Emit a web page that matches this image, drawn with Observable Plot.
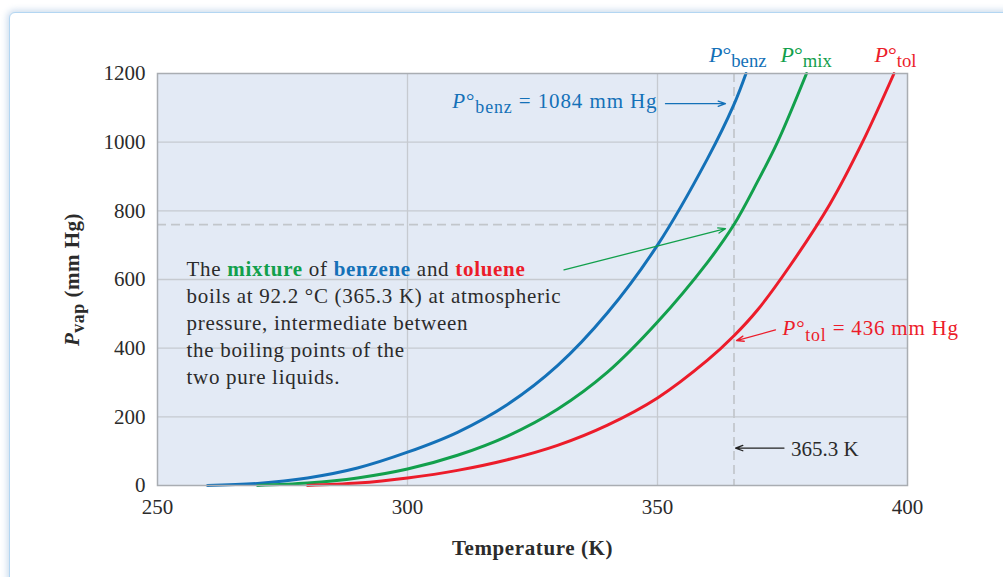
<!DOCTYPE html>
<html><head><meta charset="utf-8">
<script src="https://cdn.jsdelivr.net/npm/d3@7"></script>
<script src="https://cdn.jsdelivr.net/npm/@observablehq/plot@0.6"></script>
<style>
html,body{margin:0;padding:0;background:#fff;overflow:hidden;}
#wrap{position:relative;width:1003px;height:577px;overflow:hidden;}
#card{position:absolute;left:9px;top:12px;width:1100px;height:700px;border:1.5px solid #b3d6f2;border-top-left-radius:6px;box-shadow:0 0 6px 2px rgba(190,210,232,0.75);background:#fff;}
#chart{position:absolute;left:0;top:0;}
</style></head><body>
<div id="wrap"><div id="card"></div><div id="chart"></div></div>
<script>
// ---- data ----
const benzT = [260, 270, 280, 290, 300, 310, 320, 330, 340, 350, 360, 365.3, 367.7];
const benzP = [0, 6, 22, 51, 97, 155, 236, 349, 503, 700, 952, 1110, 1200];
const mixT  = [270, 280, 290, 300, 310, 320, 330, 340, 350, 360, 365.3, 370, 374, 379.8];
const mixP  = [0, 7, 22, 48, 88, 144, 222, 330, 476, 650, 760, 885, 1000, 1200];
const tolT  = [280, 290, 300, 310, 320, 330, 340, 350, 360, 365.3, 370, 376.5, 384.5, 391, 397.3];
const tolP  = [0, 7, 22, 44, 75, 117, 176, 255, 365, 436, 511, 640, 820, 1000, 1200];

const xTicks = [250, 300, 350, 400];
const yTicks = [0, 200, 400, 600, 800, 1000, 1200];
const gridXVals = [300, 350];
const gridYVals = [200, 400, 600, 800, 1000];
const boilT = 365.3;     // K
const boilP = 760;       // mm Hg (atmospheric)

const topLabels = ["P°benz", "P°mix", "P°tol"];
const topLabelX = [360.3, 374.6, 393.4];

const paraLines = ["The mixture of benzene and toluene",
  "boils at 92.2 °C (365.3 K) at atmospheric",
  "pressure, intermediate between",
  "the boiling points of the",
  "two pure liquids."];
const paraX = 255.8, paraY = 296;

const labelTexts = ["P°benz = 1084 mm Hg", "P°tol = 436 mm Hg", "365.3 K"];
const labelX = [350, 375, 376.7];
const labelY = [1100, 437, 84.5];
const labelAnchor = ["end", "start", "start"];

const arrowX1 = [351.6, 331.3, 373.6, 375.3];
const arrowY1 = [1112, 628, 453, 109];
const arrowX2 = [363.6, 363.6, 365.8, 365.6];
const arrowY2 = [1112, 748, 422, 109];

// ---- styles ----
const BLUE = "#1471b8", GREEN = "#12a04c", RED = "#ec1c2a", INK = "#2b2b2b";
const serif = "'Liberation Serif', 'Times New Roman', serif";

const toRows = (T, P) => T.map((t, i) => ({T: t, P: P[i]}));
const benz = toRows(benzT, benzP), mix = toRows(mixT, mixP), tol = toRows(tolT, tolP);
const arrowColors = [BLUE, GREEN, RED, "#222"];
const labelColors = [BLUE, RED, INK];
const topColors = [BLUE, GREEN, RED];

const arrowMarks = arrowX1.map((x1, i) => Plot.arrow([{x1, y1: arrowY1[i], x2: arrowX2[i], y2: arrowY2[i]}],
  {x1: "x1", y1: "y1", x2: "x2", y2: "y2", stroke: arrowColors[i], strokeWidth: 1.3, headLength: 9, headAngle: 40}));
const labelMarks = labelTexts.map((t, i) => Plot.text([t], {x: labelX[i], y: labelY[i], textAnchor: labelAnchor[i],
  lineAnchor: "bottom", fill: labelColors[i], fontSize: 21}));
const topMarks = topLabels.map((t, i) => Plot.text([t], {x: topLabelX[i], frameAnchor: "top", dy: -12, textAnchor: "start",
  lineAnchor: "bottom", fill: topColors[i], fontSize: 22}));

const plot = Plot.plot({
  width: 1003, height: 577,
  marginLeft: 157, marginRight: 96, marginTop: 73, marginBottom: 92,
  style: {fontFamily: serif, fontSize: "21px", color: INK, background: "transparent", overflow: "visible"},
  x: {domain: [250, 400]},
  y: {domain: [0, 1200]},
  marks: [
    Plot.frame({fill: "#e3eaf5", stroke: null}),
    Plot.gridX(gridXVals, {stroke: "#c6cad0", strokeOpacity: 1, strokeWidth: 1.3}),
    Plot.gridY(gridYVals, {stroke: "#c6cad0", strokeOpacity: 1, strokeWidth: 1.3}),
    Plot.ruleX([boilT], {stroke: "#c2c6cb", strokeWidth: 1.7, strokeDasharray: "9,5"}),
    Plot.ruleY([boilP], {stroke: "#c2c6cb", strokeWidth: 1.7, strokeDasharray: "9,5"}),
    Plot.line(benz, {x: "T", y: "P", stroke: BLUE, strokeWidth: 3, curve: "catmull-rom"}),
    Plot.line(mix, {x: "T", y: "P", stroke: GREEN, strokeWidth: 3, curve: "catmull-rom"}),
    Plot.line(tol, {x: "T", y: "P", stroke: RED, strokeWidth: 3, curve: "catmull-rom"}),
    Plot.frame({stroke: "#a9adb2", strokeWidth: 1.5}),
    Plot.axisX({ticks: xTicks, tickSize: 0, tickPadding: 14, label: null, fontSize: 21, fill: INK, tickFormat: d => String(d)}),
    Plot.axisY({ticks: yTicks, tickSize: 0, tickPadding: 12, label: null, fontSize: 21, fill: INK, tickFormat: d => String(d)}),
    Plot.text(["Temperature (K)"], {frameAnchor: "bottom", dy: 69, lineAnchor: "bottom", fontWeight: "bold", fontSize: 21, fill: INK}),
    Plot.text(["Pvap (mm Hg)"], {frameAnchor: "left", dx: -79, rotate: -90, textAnchor: "middle", lineAnchor: "bottom", fontWeight: "bold", fontSize: 21, fill: INK}),
    Plot.text([paraLines.join("\n")], {x: paraX, y: paraY, textAnchor: "start", lineAnchor: "bottom", lineHeight: 1.28, fontSize: 21, fill: INK}),
    ...arrowMarks,
    ...labelMarks,
    ...topMarks
  ]
});

// ---- letter spacing (reference serif is wider than Liberation Serif) ----
const spacing = [["The mixture", "0.7px"], ["P°benz =", "0.9px"], ["P°tol =", "0.8px"], ["Temperature", "0.6px"], ["Pvap", "0.5px"]];
plot.querySelectorAll("text").forEach(el => {
  for (const [prefix, ls] of spacing) if (el.textContent.startsWith(prefix)) el.setAttribute("letter-spacing", ls);
});

// ---- rich text (italics, subscripts, coloured bold words) ----
const richSpecs = {
  "P°benz": [{t: "P", i: 1}, {t: "°"}, {t: "benz", sub: 1}],
  "P°mix": [{t: "P", i: 1}, {t: "°"}, {t: "mix", sub: 1}],
  "P°tol": [{t: "P", i: 1}, {t: "°"}, {t: "tol", sub: 1}],
  "P°benz = 1084 mm Hg": [{t: "P", i: 1}, {t: "°"}, {t: "benz", sub: 1}, {t: " = 1084 mm Hg"}],
  "P°tol = 436 mm Hg": [{t: "P", i: 1}, {t: "°"}, {t: "tol", sub: 1}, {t: " = 436 mm Hg"}],
  "Pvap (mm Hg)": [{t: "P", i: 1}, {t: "vap", sub: 1}, {t: " (mm Hg)"}],
  "The mixture of benzene and toluene": [{t: "The "}, {t: "mixture", b: 1, c: GREEN}, {t: " of "},
    {t: "benzene", b: 1, c: BLUE}, {t: " and "}, {t: "toluene", b: 1, c: RED}]
};
const SUB = 5.5;
plot.querySelectorAll("text, tspan").forEach(el => {
  if (el.children.length) return;
  const segs = richSpecs[el.textContent];
  if (!segs) return;
  el.textContent = "";
  let shift = 0;
  for (const s of segs) {
    const t = document.createElementNS("http://www.w3.org/2000/svg", "tspan");
    t.textContent = s.t;
    if (s.i) t.setAttribute("font-style", "italic");
    if (s.b) t.setAttribute("font-weight", "bold");
    if (s.c) t.setAttribute("fill", s.c);
    const target = s.sub ? SUB : 0;
    if (target !== shift) { t.setAttribute("dy", (target - shift) + "px"); shift = target; }
    if (s.sub) t.setAttribute("font-size", "0.85em");
    el.appendChild(t);
  }
});

document.getElementById("chart").appendChild(plot);
</script>
</body></html>
